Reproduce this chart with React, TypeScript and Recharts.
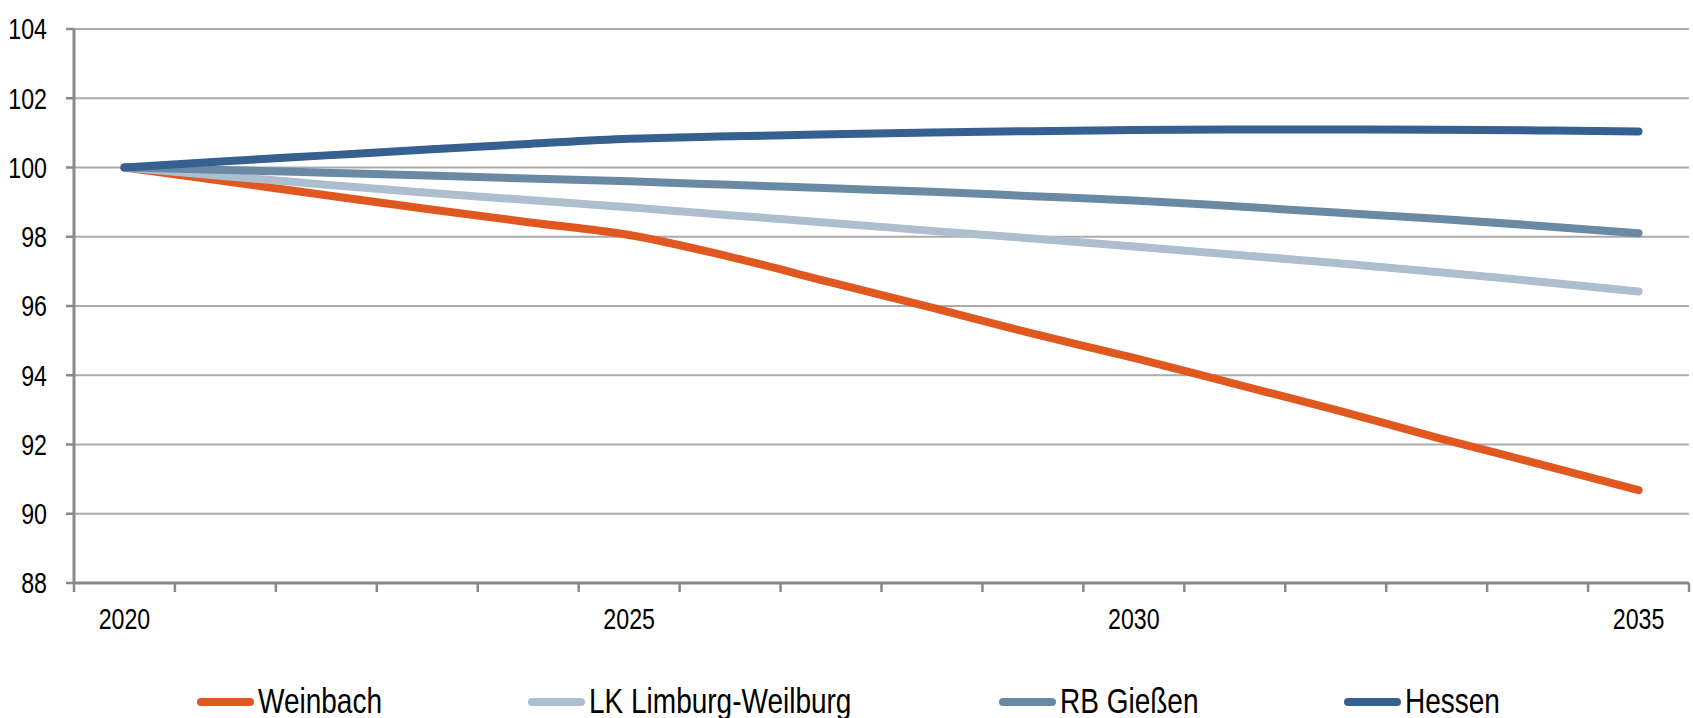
import React from 'react';
import { LineChart, Line, XAxis, YAxis, CartesianGrid, Legend } from 'recharts';

const years = [2020, 2021, 2022, 2023, 2024, 2025, 2026, 2027, 2028, 2029, 2030, 2031, 2032, 2033, 2034, 2035];
const weinbach = [100, 99.6, 99.2, 98.8, 98.42, 98.05, 97.42, 96.68, 95.95, 95.2, 94.5, 93.75, 93.0, 92.2, 91.45, 90.68];
const lkLimburg = [100, 99.75, 99.5, 99.27, 99.06, 98.85, 98.62, 98.4, 98.17, 97.95, 97.72, 97.48, 97.24, 96.98, 96.71, 96.42];
const rbGiessen = [100, 99.93, 99.85, 99.77, 99.68, 99.6, 99.5, 99.4, 99.3, 99.17, 99.05, 98.88, 98.7, 98.52, 98.32, 98.1];
const hessen = [100, 100.18, 100.35, 100.52, 100.68, 100.83, 100.9, 100.96, 101.01, 101.05, 101.08, 101.1, 101.1, 101.09, 101.07, 101.04];

const seriesNames = ['Weinbach', 'LK Limburg-Weilburg', 'RB Gießen', 'Hessen'];
const seriesKeys = ['weinbach', 'lkLimburg', 'rbGiessen', 'hessen'];
const seriesColors = ['#E0581F', '#ADBFCE', '#6A8AA4', '#35608F'];
const yTicks = [88, 90, 92, 94, 96, 98, 100, 102, 104];
const xLabelYears = [2020, 2025, 2030, 2035];

const data = years.map((year, i) => ({
  year,
  weinbach: weinbach[i],
  lkLimburg: lkLimburg[i],
  rbGiessen: rbGiessen[i],
  hessen: hessen[i],
}));

const boundaryTicks = [...years.map((y) => y - 0.5), years[years.length - 1] + 0.5];
const xTicks = [...boundaryTicks, ...xLabelYears].sort((a, b) => a - b);

const FONT = '"Liberation Sans", Arial, sans-serif';
const AXIS_COLOR = '#898989';
const SQUEEZE = 0.8;

const XTick = (props: any) => {
  const { x, y, payload } = props;
  const v = payload.value;
  if (Number.isInteger(v)) {
    return (
      <text
        transform={`translate(${x},${y + 46}) scale(${SQUEEZE},1)`}
        textAnchor="middle"
        fontFamily={FONT}
        fontSize={29}
        fill="#000"
      >
        {v}
      </text>
    );
  }
  return <line x1={x} x2={x} y1={y} y2={y + 9} stroke={AXIS_COLOR} strokeWidth={2.5} />;
};

const YTick = (props: any) => {
  const { x, y, payload } = props;
  return (
    <text
      transform={`translate(${x},${y}) scale(${SQUEEZE},1)`}
      textAnchor="end"
      dy="0.355em"
      fontFamily={FONT}
      fontSize={29}
      fill="#000"
    >
      {payload.value}
    </text>
  );
};

const legendX = [197, 528, 999, 1344];

const LegendContent = () => (
  <svg width={1693} height={48} style={{ display: 'block', overflow: 'visible' }}>
    {seriesNames.map((name, i) => (
      <g key={name}>
        <line
          x1={legendX[i] + 4}
          x2={legendX[i] + 53}
          y1={32}
          y2={32}
          stroke={seriesColors[i]}
          strokeWidth={8}
          strokeLinecap="round"
        />
        <text
          transform={`translate(${legendX[i] + 61},43) scale(${SQUEEZE},1)`}
          fontFamily={FONT}
          fontSize={35}
          fill="#000"
        >
          {name}
        </text>
      </g>
    ))}
  </svg>
);

export default function App() {
  return (
    <div style={{ position: 'absolute', left: 0, top: 0, width: 1693, height: 718, background: '#fff' }}>
      <LineChart width={1693} height={718} data={data} margin={{ top: 29, right: 4, left: 0, bottom: 27 }}>
        <CartesianGrid horizontal vertical={false} stroke="#ababab" strokeWidth={2} />
        <XAxis
          dataKey="year"
          type="number"
          domain={[2019.5, 2035.5]}
          ticks={xTicks}
          interval={0}
          tick={<XTick />}
          tickLine={false}
          tickSize={0}
          tickMargin={0}
          height={60}
          axisLine={{ stroke: AXIS_COLOR, strokeWidth: 3 }}
          allowDecimals
        />
        <YAxis
          domain={[88, 104]}
          ticks={yTicks}
          interval={0}
          width={74}
          tickSize={8}
          tickMargin={19}
          tickLine={{ stroke: AXIS_COLOR, strokeWidth: 2.5 }}
          axisLine={{ stroke: AXIS_COLOR, strokeWidth: 3 }}
          tick={<YTick />}
        />
        <Legend
          verticalAlign="bottom"
          content={<LegendContent />}
          wrapperStyle={{ position: 'absolute', left: 0, top: 670, width: 1693, height: 48 }}
        />
        {seriesKeys.map((k, i) => (
          <Line
            key={k}
            type="monotone"
            dataKey={k}
            name={seriesNames[i]}
            stroke={seriesColors[i]}
            strokeWidth={8}
            strokeLinecap="round"
            dot={false}
            activeDot={false}
            isAnimationActive={false}
          />
        ))}
      </LineChart>
    </div>
  );
}
